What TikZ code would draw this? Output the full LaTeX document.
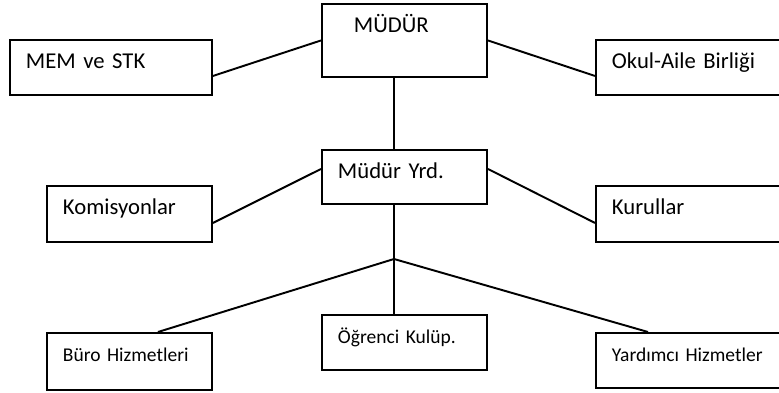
\documentclass[tikz,border=0pt]{standalone}
\usepackage{fontspec}
\setmainfont{Carlito}
\usepackage{tikz}

\tikzset{
    box/.style 2 args={draw, anchor=north west, inner xsep=0.32cm, inner ysep=0pt,
        text width=#1cm-0.64cm, align=left, text height=0.58cm, text depth=#2cm-0.58cm,
        font=\fontsize{12.9}{15}\selectfont},
    smallbox/.style={font=\fontsize{11.1}{13}\selectfont}
}

\begin{document}
\begin{tikzpicture}[scale=1, line width=1.1pt]
            \useasboundingbox (0,0) rectangle (15.58,7.86);
            \node[box={4.04}{1.10}] (mem) at (0.18,7.08) {MEM ve STK};
            \node[box={3.30}{1.46}] (mudur) at (6.42,7.80) {\hspace*{0.32cm}MÜDÜR};
            \node[box={4.00}{1.10}] (okul) at (11.90,7.08) {Okul-Aile Birliği};
            \node[box={3.30}{1.08}] (yrd) at (6.42,4.88) {Müdür Yrd.};
            \node[box={3.30}{1.12}] (kom) at (0.92,4.16) {Komisyonlar};
            \node[box={4.00}{1.12}] (kur) at (11.90,4.16) {Kurullar};
            \node[box={3.30}{1.14}, smallbox] (buro) at (0.92,1.22) {Büro Hizmetleri};
            \node[box={3.30}{1.10}, smallbox] (ogr) at (6.42,1.58) {Öğrenci Kulüp.};
            \node[box={4.00}{1.10}, smallbox] (yard) at (11.90,1.22) {Yardımcı Hizmetler};
            \coordinate (dal) at (7.88,2.68);
            \draw ([yshift=-0.17cm]mem.east) -- (mudur.west);
            \draw (mudur.east) -- ([yshift=-0.17cm]okul.west);
            \draw (mudur.south -| dal) -- (yrd.north -| dal);
            \draw ([yshift=-0.18cm]kom.east) -- ([yshift=0.16cm]yrd.west);
            \draw ([yshift=0.16cm]yrd.east) -- ([yshift=-0.18cm]kur.west);
            \draw (yrd.south -| dal) -- (ogr.north -| dal);
            \draw (dal) -- ([xshift=0.57cm]buro.north);
            \draw (dal) -- ([xshift=1.06cm]yard.north west);
\end{tikzpicture}
\end{document}
